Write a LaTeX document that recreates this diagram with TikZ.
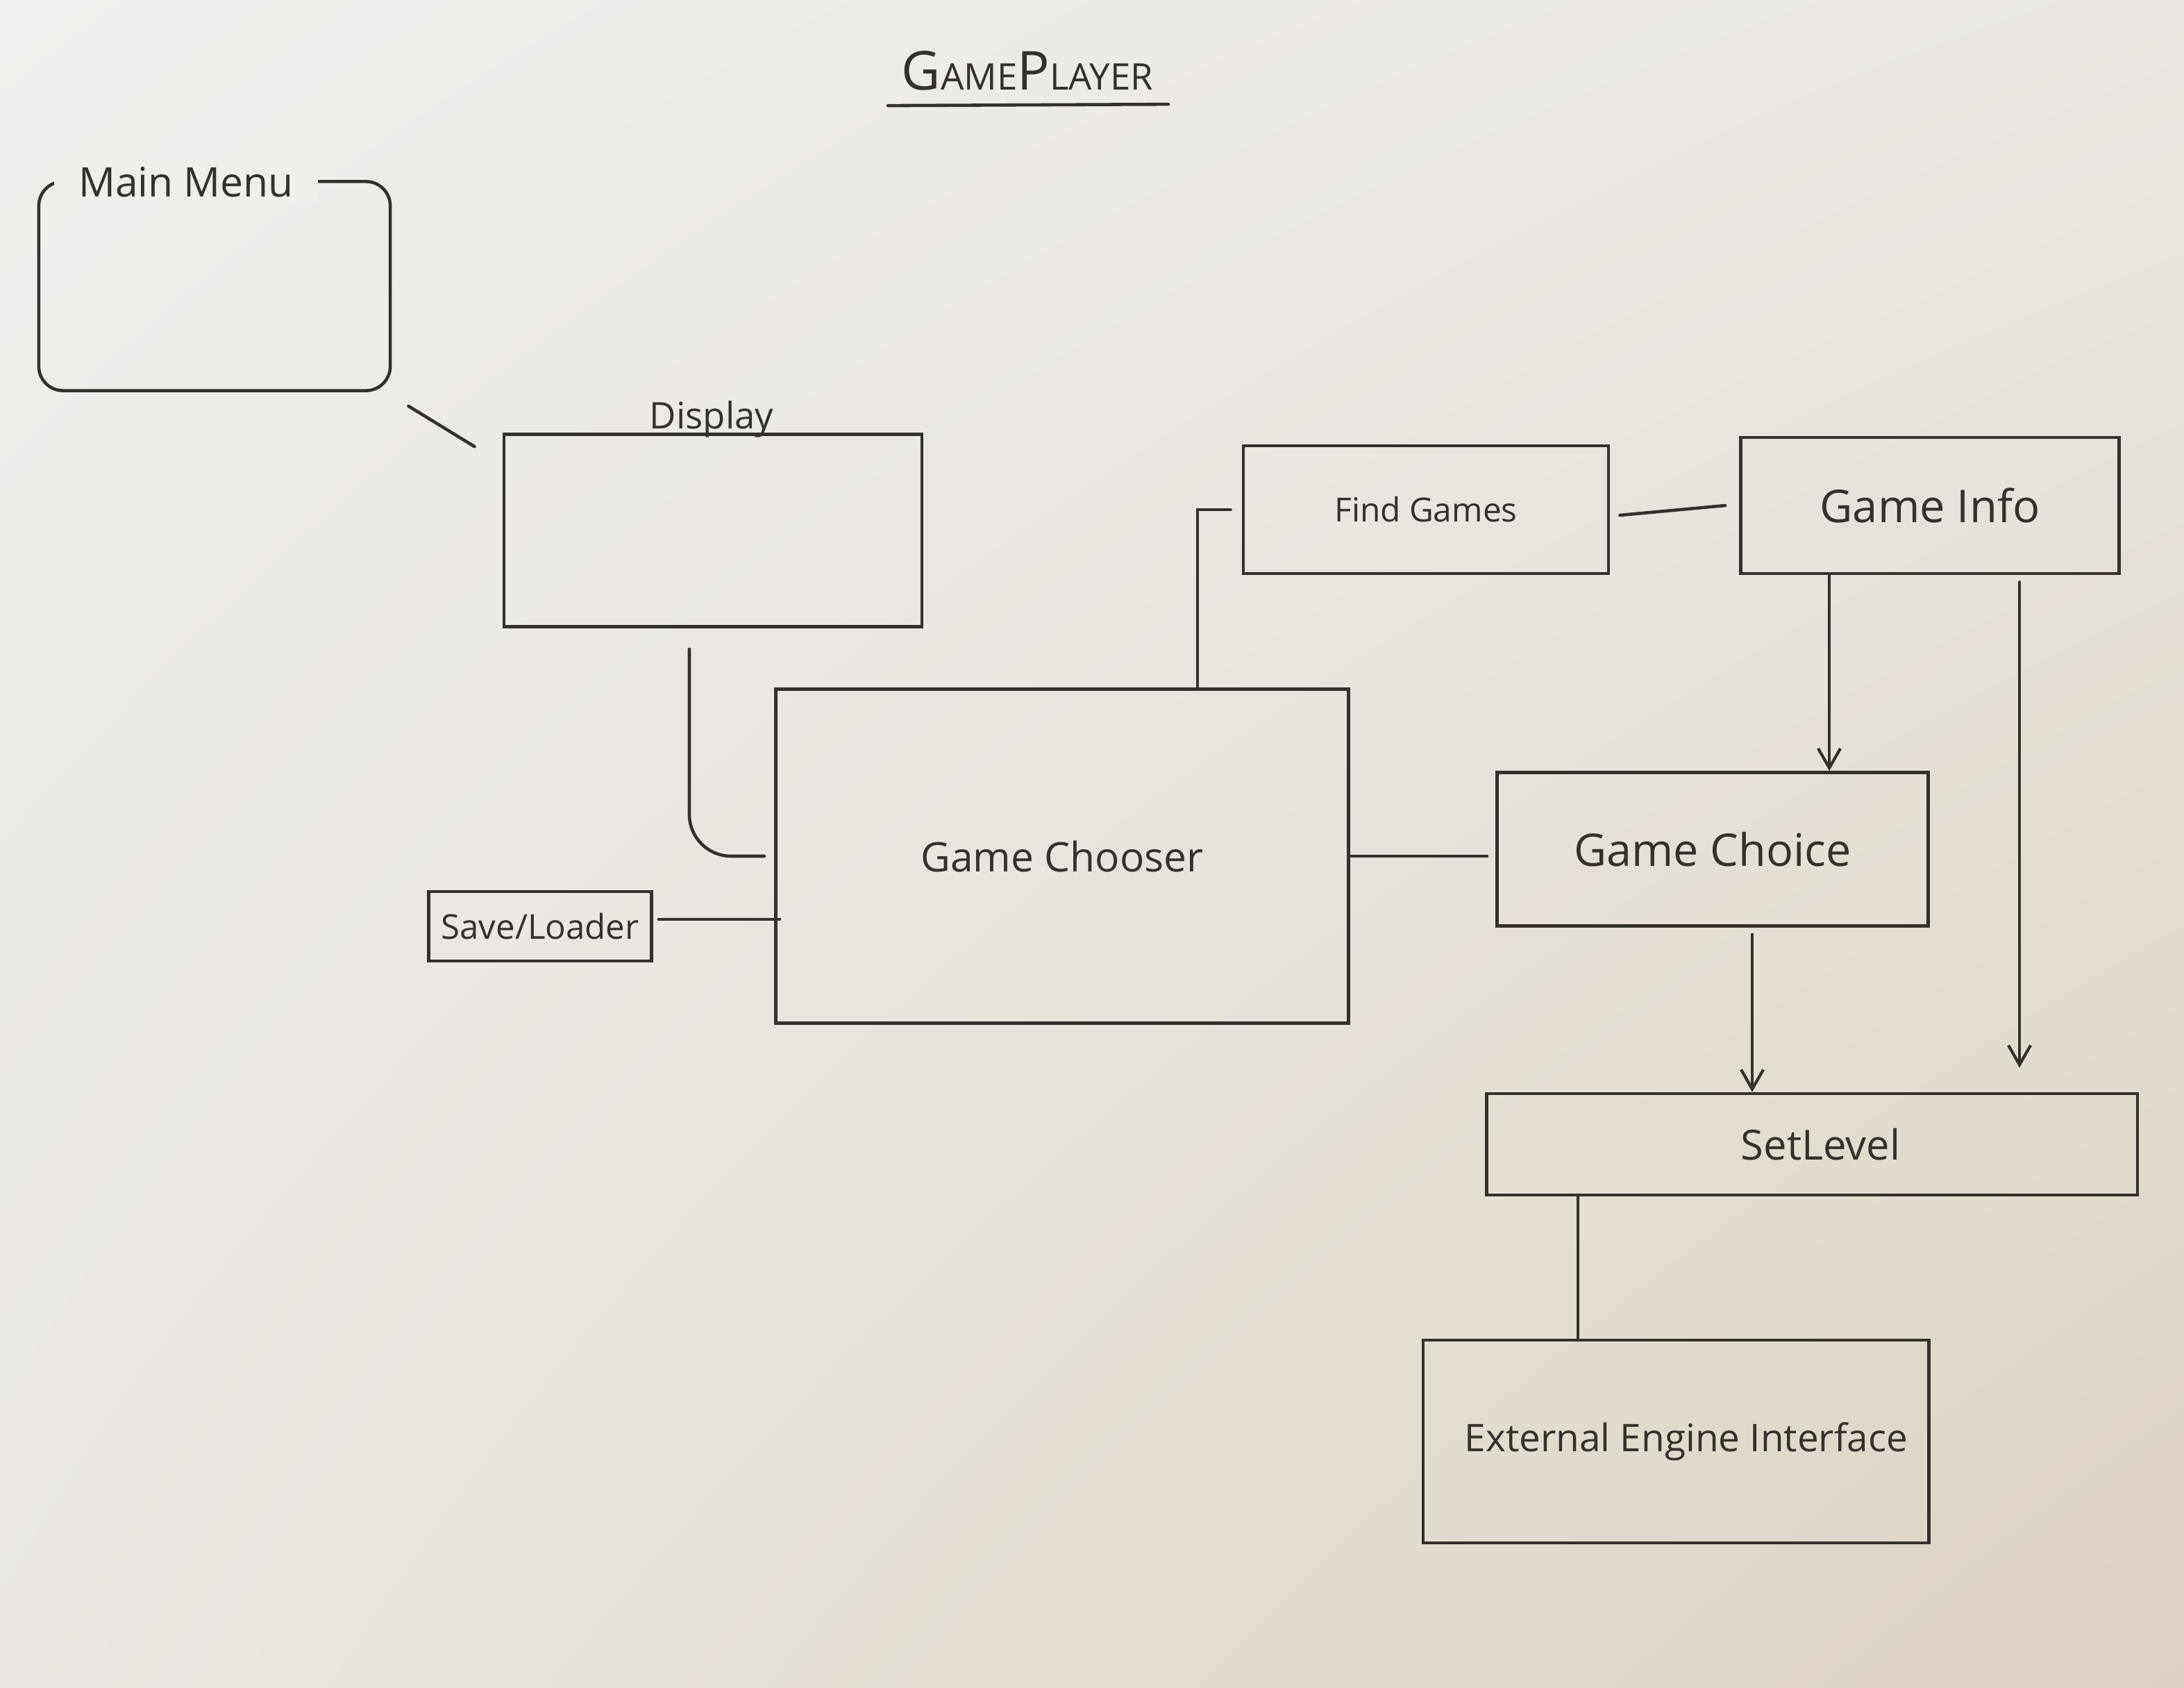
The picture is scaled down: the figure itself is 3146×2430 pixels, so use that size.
\documentclass[tikz,border=0pt]{standalone}
\usepackage{fontspec}
\setmainfont{Open Sans}
\usetikzlibrary{arrows.meta,shadings}
\definecolor{ink}{RGB}{52,48,44}
\definecolor{paperUL}{RGB}{241,240,238}
\definecolor{paperUR}{RGB}{234,231,226}
\definecolor{paperLL}{RGB}{234,231,226}
\definecolor{paperLR}{RGB}{220,210,196}
\definecolor{paperMM}{RGB}{240,239,236}
\begin{document}
\begin{tikzpicture}[x=0.01cm,y=-0.01cm,
  ln/.style={draw=ink,line width=1.3pt,line cap=round},
  arr/.style={ln,-{Straight Barb[length=0.28cm,width=0.32cm,line width=1.2pt]}},
  bx/.style={draw=ink,line width=1.3pt,inner sep=0pt,text=ink,align=center},
  lab/.style={text=ink,inner sep=2pt}]
% paper
\shade[upper left=paperUL,upper right=paperUR,lower left=paperLL,lower right=paperLR]
  (0,0) rectangle (3146,2430);
\useasboundingbox (0,0) rectangle (3146,2430);

% title
\node[lab] (title) at (1480,102) {{\fontsize{22}{22}\selectfont G}{\fontsize{15}{15}\selectfont AME}{\fontsize{22}{22}\selectfont P}{\fontsize{15}{15}\selectfont LAYER}};
\draw[ln] ([shift={(-12,14)}]title.south west) -- ([shift={(14,12)}]title.south east);

% boxes
\node[bx,rounded corners=0.35cm,minimum width=5.06cm,minimum height=3.01cm] (mm) at (309,412) {};
\node[lab,fill=paperMM,inner xsep=10pt,font=\fontsize{16.7}{18}\selectfont] (mmlab) at (268,262) {Main Menu};

\node[bx,minimum width=6.02cm,minimum height=2.77cm] (disp) at (1027,764) {};
\node[lab,font=\fontsize{15}{17}\selectfont,anchor=center] (displab) at (1025,604) {Display};

\node[bx,minimum width=8.25cm,minimum height=4.81cm,font=\fontsize{16.7}{18}\selectfont] (chooser) at (1530,1233) {Game Chooser};
\node[bx,minimum width=3.21cm,minimum height=1.00cm,font=\fontsize{14}{16}\selectfont] (sl) at (778,1334) {Save/Loader};
\node[bx,minimum width=5.26cm,minimum height=1.84cm,font=\fontsize{13.6}{15}\selectfont] (fg) at (2054,734) {Find Games};
\node[bx,minimum width=5.45cm,minimum height=1.96cm,font=\fontsize{18.5}{21}\selectfont] (gi) at (2780,728) {Game Info};
\node[bx,minimum width=6.21cm,minimum height=2.21cm,font=\fontsize{18.4}{20}\selectfont] (gc) at (2467,1223) {Game Choice};
\node[bx,minimum width=9.37cm,minimum height=1.46cm,font=\fontsize{17}{19}\selectfont] (setl) at (2610,1648) {\hspace*{0.25cm}SetLevel};
\node[bx,minimum width=7.28cm,minimum height=2.92cm,font=\fontsize{15.6}{17}\selectfont] (eei) at (2414,2076) {\hspace*{0.3cm}External Engine Interface};

% connectors
\draw[ln] ([shift={(24,20)}]mm.south east) -- ([shift={(-40,20)}]disp.north west);
\draw[ln,rounded corners=0.6cm] ([shift={(-34,30)}]disp.south) |- ([shift={(-14,0)}]chooser.west);
\draw[ln] ([shift={(8,-10)}]sl.east) -- ([shift={(8,-10)}]sl.east -| chooser.west);
\draw[ln] ([shift={(195,0)}]chooser.north) |- ([shift={(-16,0)}]fg.west);
\draw[ln] ([shift={(14,8)}]fg.east) -- ([shift={(-20,0)}]gi.west);
\draw[arr] ([shift={(-145,0)}]gi.south) -- ([shift={(-145,0)}]gi.south |- gc.north);
\draw[arr,shorten >=0.35cm] ([shift={(129,10)}]gi.south) -- ([shift={(129,0)}]gi.south |- setl.north);
\draw[ln] (chooser.east) -- ([shift={(-12,0)}]chooser.east -| gc.west);
\draw[arr] ([shift={(57,10)}]gc.south) -- ([shift={(57,0)}]gc.south |- setl.north);
\draw[ln] ([shift={(-337,0)}]setl.south) -- ([shift={(-337,0)}]setl.south |- eei.north);
\end{tikzpicture}
\end{document}
